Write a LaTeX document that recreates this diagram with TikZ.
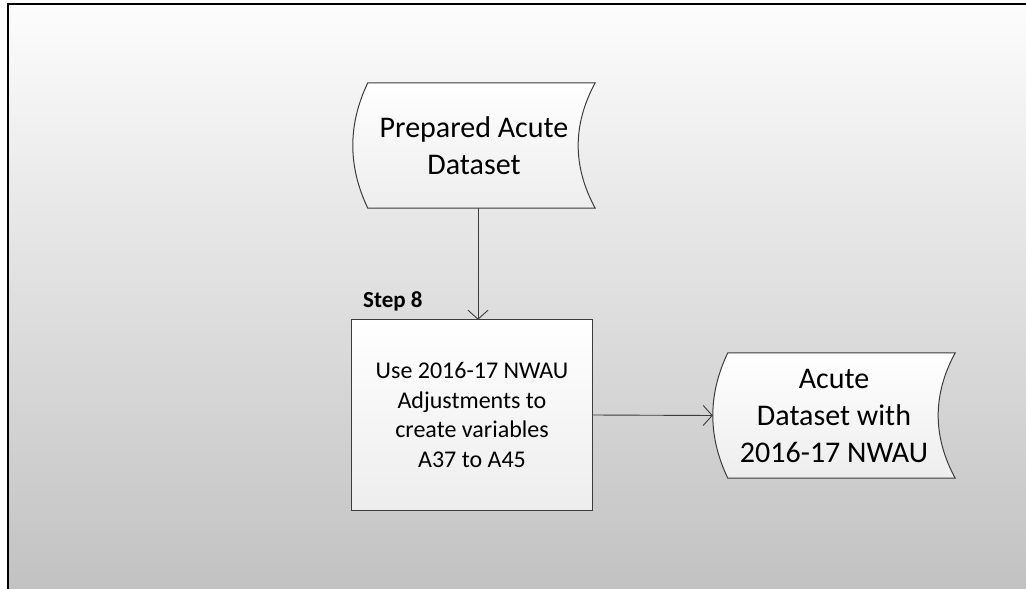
\documentclass[tikz,border=0pt]{standalone}
\usepackage{fontspec}
\setmainfont{Carlito}
\usetikzlibrary{arrows.meta,calc}
\pgfdeclarelayer{bg}
\pgfdeclarelayer{background}
\pgfsetlayers{bg,background,main}
\definecolor{edge}{HTML}{3C3C3C}
\newcommand\storedpath[1]{%
    ($(#1.north west)+(15,0)$) -- (#1.north east)
    .. controls ($(#1.north east)!1/3!(#1.south east)+(-22.7,0)$)
            and ($(#1.south east)!1/3!(#1.north east)+(-22.7,0)$) .. (#1.south east)
    -- ($(#1.south west)+(15,0)$)
    .. controls ($(#1.south west)!1/3!(#1.north west)+(-5,0)$)
            and ($(#1.north west)!1/3!(#1.south west)+(-5,0)$) .. cycle}
\newcommand\storedshape[1]{%
  \fill[black,opacity=0.07,xshift=4pt,yshift=-4pt] \storedpath{#1};
  \path[draw=edge,line width=1pt,top color=white,bottom color=black!7] \storedpath{#1};}
\begin{document}
\begin{tikzpicture}[x=1pt,y=-1pt,
  datanode/.style={minimum width=242pt,minimum height=125pt,inner sep=0pt,align=center,font=\fontsize{30}{37}\selectfont},
  stepbox/.style={minimum width=240pt,minimum height=190pt,inner sep=0pt,align=center,font=\fontsize{24}{29.5}\selectfont},
  steplabel/.style={anchor=base west,inner sep=0pt,font=\bfseries\fontsize{23}{27}\selectfont},
  arr/.style={draw=edge,line width=0.9pt,-{Straight Barb[length=9pt,width=20pt]}},
]
\useasboundingbox (0,0) rectangle (1026,589);
\begin{pgfonlayer}{bg}
  \shade[top color=black!1, bottom color=black!24] (8,4) rectangle (1026,589);
  \draw[line width=2pt,black] (8,589) -- (8,4) -- (1026,4);
\end{pgfonlayer}

\node[datanode] (src) at (474,145.5) {Prepared Acute\\Dataset};
\node[stepbox] (step) at (472,415) {Use 2016-17 NWAU\\Adjustments to\\create variables\\A37 to A45};
\node[datanode] (dst) at (834,415.5) {Acute\\Dataset with\\2016-17 NWAU};
\node[steplabel] (lbl) at (363,307) {Step 8};

\begin{pgfonlayer}{background}
  \storedshape{src}
  \storedshape{dst}
  \fill[black,opacity=0.07,xshift=4pt,yshift=-4pt] (step.north west) rectangle (step.south east);
  \path[draw=edge,line width=1pt,top color=white,bottom color=black!7] (step.north west) rectangle (step.south east);
\end{pgfonlayer}

\draw[arr] ([xshift=4pt]src.south) -- ([xshift=4pt]src.south |- step.north);
\draw[arr] (step.east) -- (dst.west);
\end{tikzpicture}
\end{document}
